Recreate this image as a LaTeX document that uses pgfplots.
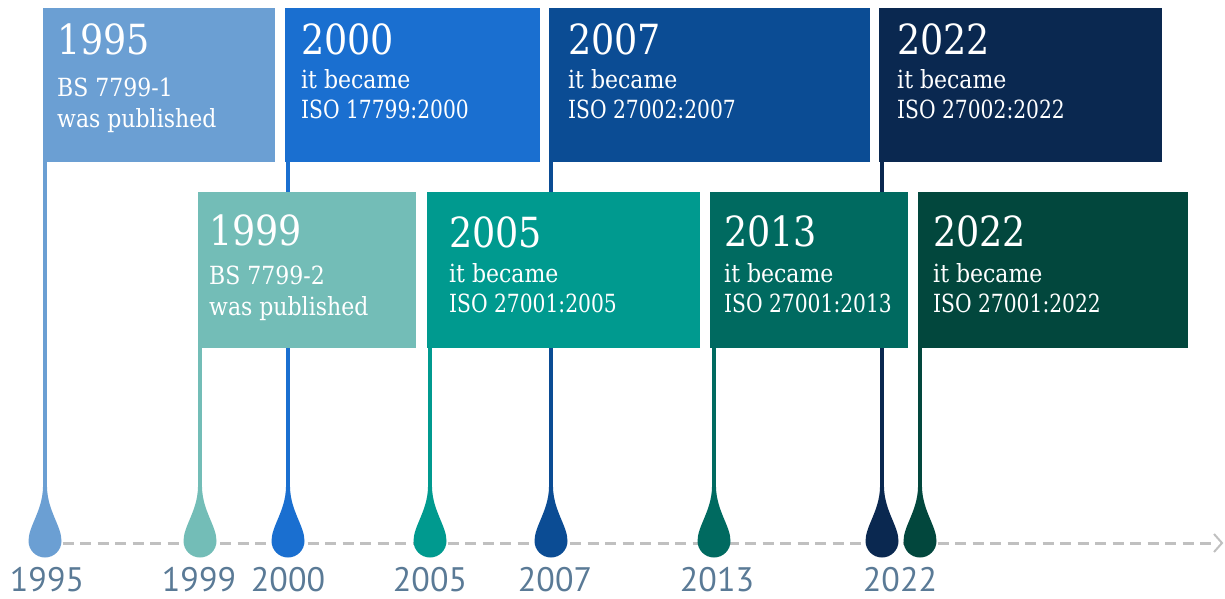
\documentclass[border=0pt]{standalone}
\usepackage{pgfplots}
\pgfplotsset{compat=1.18}
\usepackage{fontspec}
\setmainfont{DejaVu Serif}[FakeStretch=0.88]
\newfontfamily\isofont{DejaVu Serif}[FakeStretch=0.81]
\newfontfamily\labelfont{PT Sans}
\definecolor{cA}{HTML}{6B9FD3}
\definecolor{cB}{HTML}{1A6FD0}
\definecolor{cC}{HTML}{0B4C94}
\definecolor{cD}{HTML}{0A2850}
\definecolor{cE}{HTML}{73BDB7}
\definecolor{cF}{HTML}{009A8F}
\definecolor{cG}{HTML}{006A60}
\definecolor{cH}{HTML}{02473D}
\definecolor{labelc}{HTML}{5A7A96}
\definecolor{dashc}{HTML}{C0C0C0}
\pgfdeclareplotmark{drop}{%
  \pgfpathmoveto{\pgfpoint{-2pt}{54pt}}%
  \pgfpathcurveto{\pgfpoint{-2.5pt}{30pt}}{\pgfpoint{-16.5pt}{15pt}}{\pgfpoint{-16.5pt}{0pt}}%
  \pgfpatharc{180}{360}{16.5pt}%
  \pgfpathcurveto{\pgfpoint{16.5pt}{15pt}}{\pgfpoint{2.5pt}{30pt}}{\pgfpoint{2pt}{54pt}}%
  \pgfpathclose
  \pgfusepathqfill
}
\tikzset{
  head/.style={anchor=base west, text=white, inner sep=0pt, font=\fontsize{41.5}{41.5}\selectfont},
  body/.style={anchor=base west, text=white, inner sep=0pt, font=\fontsize{25}{25}\selectfont},
  iso/.style={anchor=base west, text=white, inner sep=0pt, font=\isofont\fontsize{25}{25}\selectfont},
  yr/.style={anchor=base, text=labelc, inner sep=0pt, font=\labelfont\fontsize{34}{34}\selectfont},
}
\begin{document}
\begin{tikzpicture}
\begin{axis}[scale only axis, width=1225pt, height=599pt,
  xmin=0, xmax=1225, ymin=0, ymax=599, y dir=reverse,
  hide axis, clip=false]
% timeline
\addplot[dashc, line width=3pt, dash pattern=on 11pt off 6.5pt] coordinates {(45,543) (1214,543)};
\addplot[dashc, line width=2pt] coordinates {(1214,534) (1222,543) (1214,552)};
% stems
\addplot[cA, line width=4pt] coordinates {(45,160) (45,500)};
\addplot[cB, line width=4pt] coordinates {(288,160) (288,500)};
\addplot[cC, line width=4pt] coordinates {(551,160) (551,500)};
\addplot[cD, line width=4pt] coordinates {(882,160) (882,500)};
\addplot[cE, line width=4pt] coordinates {(200,346) (200,500)};
\addplot[cF, line width=4pt] coordinates {(430,346) (430,500)};
\addplot[cG, line width=4pt] coordinates {(714,346) (714,500)};
\addplot[cH, line width=4pt] coordinates {(920,346) (920,500)};
% boxes top row
\addplot[fill=cA, draw=none] coordinates {(43,8) (275,8) (275,162) (43,162)};
\addplot[fill=cB, draw=none] coordinates {(285,8) (540,8) (540,162) (285,162)};
\addplot[fill=cC, draw=none] coordinates {(549,8) (870,8) (870,162) (549,162)};
\addplot[fill=cD, draw=none] coordinates {(879,8) (1162,8) (1162,162) (879,162)};
% boxes bottom row
\addplot[fill=cE, draw=none] coordinates {(198,192) (416,192) (416,348) (198,348)};
\addplot[fill=cF, draw=none] coordinates {(427,192) (700,192) (700,348) (427,348)};
\addplot[fill=cG, draw=none] coordinates {(710,192) (908,192) (908,348) (710,348)};
\addplot[fill=cH, draw=none] coordinates {(918,192) (1188,192) (1188,348) (918,348)};
% drops
\addplot[cA, only marks, mark=drop] coordinates {(45,541)};
\addplot[cE, only marks, mark=drop] coordinates {(200,541)};
\addplot[cB, only marks, mark=drop] coordinates {(288,541)};
\addplot[cF, only marks, mark=drop] coordinates {(430,541)};
\addplot[cC, only marks, mark=drop] coordinates {(551,541)};
\addplot[cG, only marks, mark=drop] coordinates {(714,541)};
\addplot[cD, only marks, mark=drop] coordinates {(882,541)};
\addplot[cH, only marks, mark=drop] coordinates {(920,541)};
% box texts
\node[head] at (axis cs:57,55) {1995};
\node[body] at (axis cs:57,97) {BS 7799-1};
\node[body] at (axis cs:57,128) {was published};
\node[head] at (axis cs:301,55) {2000};
\node[body] at (axis cs:301,89) {it became};
\node[iso] at (axis cs:301,119) {ISO 17799:2000};
\node[head] at (axis cs:568,55) {2007};
\node[body] at (axis cs:568,89) {it became};
\node[iso] at (axis cs:568,119) {ISO 27002:2007};
\node[head] at (axis cs:897,55) {2022};
\node[body] at (axis cs:897,89) {it became};
\node[iso] at (axis cs:897,119) {ISO 27002:2022};
\node[head] at (axis cs:209,245) {1999};
\node[body] at (axis cs:209,284) {BS 7799-2};
\node[body] at (axis cs:209,315) {was published};
\node[head] at (axis cs:449,247) {2005};
\node[body] at (axis cs:449,282) {it became};
\node[iso] at (axis cs:449,312) {ISO 27001:2005};
\node[head] at (axis cs:724,246) {2013};
\node[body] at (axis cs:724,282) {it became};
\node[iso] at (axis cs:724,312) {ISO 27001:2013};
\node[head] at (axis cs:933,246) {2022};
\node[body] at (axis cs:933,282) {it became};
\node[iso] at (axis cs:933,312) {ISO 27001:2022};
% year labels
\node[yr] at (axis cs:47,591) {1995};
\node[yr] at (axis cs:199,591) {1999};
\node[yr] at (axis cs:288,591) {2000};
\node[yr] at (axis cs:430,591) {2005};
\node[yr] at (axis cs:555,591) {2007};
\node[yr] at (axis cs:717,591) {2013};
\node[yr] at (axis cs:900,591) {2022};
\end{axis}
\pgfresetboundingbox
\useasboundingbox (current axis.south west) rectangle (current axis.north east);
\end{tikzpicture}
\end{document}
